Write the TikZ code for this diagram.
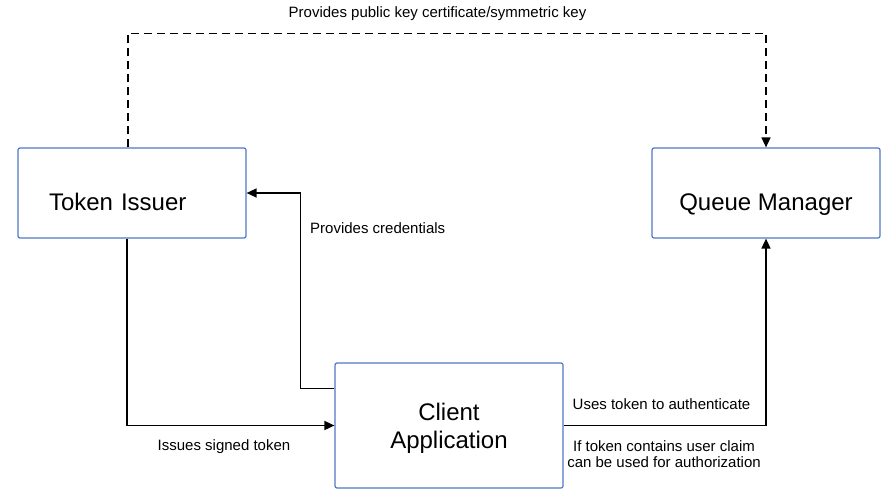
\documentclass[tikz,border=0pt]{standalone}
\usepackage{fontspec}
\setmainfont{Liberation Sans}
\usetikzlibrary{arrows.meta}
\definecolor{boxblue}{RGB}{80,120,200}
\begin{document}
\begin{tikzpicture}[x=1pt, y=-1pt,
    box/.style={draw=boxblue, line width=1.2pt, rounded corners=2pt, fill=white,
        minimum width=228pt, inner sep=0pt, font=\fontsize{24}{28}\selectfont},
    arr/.style={line width=1.6pt, -{Triangle[length=10pt, width=9pt]}},
    lbl/.style={font=\fontsize{15}{16}\selectfont, inner sep=0pt}]
    \useasboundingbox (0,0) rectangle (881,489);

    \node[box, minimum height=90pt, text width=166pt, align=left,
        text height=36pt, text depth=0pt] (issuer) at (132,193) {Token Issuer};
    \node[box, minimum height=90pt, text height=36pt, text depth=0pt] (qmgr) at (766,193) {Queue Manager};
    \node[box, minimum height=125pt, align=center, text depth=-8pt] (client) at (449,425.5) {Client\\Application};

    \draw[arr, dash pattern=on 8pt off 5pt] ([xshift=-4pt]issuer.north) -- ++(0,-114) -| (qmgr.north);
    \draw[arr] ([yshift=-26pt]client.north west) -- ++(-34,0) |- (issuer.east);
    \draw[arr] ([xshift=-5pt]issuer.south) |- (client.west);
    \draw[arr] (client.east) -| (qmgr.south);

    \node[lbl, anchor=base] (keylbl) at (437.5,18) {Provides public key certificate/symmetric key};
    \node[lbl, anchor=base west] (credlbl) at (310,234) {Provides credentials};
    \node[lbl, anchor=base] (signlbl) at (224,450) {Issues signed token};
    \node[lbl, anchor=base] (authlbl) at (661.5,409) {Uses token to authenticate};
    \node[lbl, align=center] (claimlbl) at (664,454) {If token contains user claim\\can be used for authorization};
\end{tikzpicture}
\end{document}
